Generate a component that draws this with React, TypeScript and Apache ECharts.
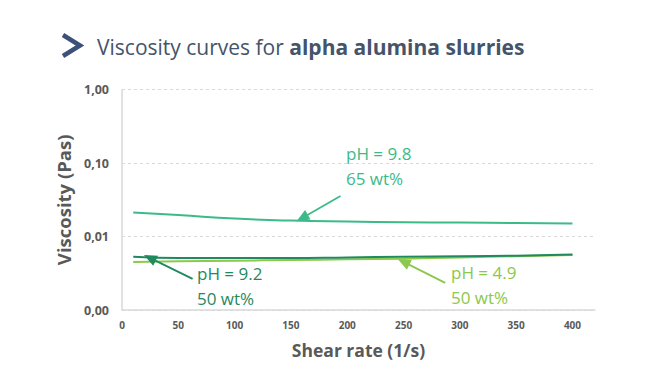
import React, { useEffect, useRef } from "react";
import * as echarts from "echarts";

const shearRate = [10, 50, 100, 150, 200, 250, 300, 350, 400];
const ph98 = [0.0212, 0.0196, 0.0176, 0.0165, 0.016, 0.0157, 0.0155, 0.0153, 0.0151];
const ph92 = [0.0053, 0.0051, 0.0051, 0.0051, 0.0052, 0.0053, 0.0054, 0.0055, 0.0057];
const ph49 = [0.0045, 0.0046, 0.0047, 0.0048, 0.0049, 0.005, 0.0052, 0.0054, 0.0056];
const yTicks = [0.001, 0.01, 0.1, 1];
const xTicks = [0, 50, 100, 150, 200, 250, 300, 350, 400];

const C98 = "#3dba8a";
const C92 = "#1f8a5f";
const C49 = "#8cc84b";
const FONT = "Open Sans";

const arrow = (from: number[], to: number[], color: string) => ({
  silent: true,
  symbol: ["none", "triangle"],
  symbolSize: [11, 13],
  label: { show: false },
  lineStyle: { color, width: 1.8, type: "solid" },
  data: [[{ coord: from }, { coord: to }]],
});

export default function App() {
  const ref = useRef<HTMLDivElement>(null);
  useEffect(() => {
    if (!ref.current) return;
    const chart = echarts.init(ref.current, null, { renderer: "svg" });
    const mk = (name: string, data: number[], color: string, extra: any = {}) => ({
      name,
      type: "line",
      smooth: true,
      showSymbol: false,
      data: shearRate.map((x, i) => [x, data[i]]),
      lineStyle: { color, width: 2 },
      itemStyle: { color },
      ...extra,
    });
    const note = (x: number, y: number, text: string, color: string) => ({
      type: "text",
      x,
      y,
      style: { text, fontSize: 17, lineHeight: 25, fontFamily: FONT, fill: color, verticalAlign: "top" },
    });
    chart.setOption({
      animation: false,
      textStyle: { fontFamily: FONT },
      grid: { left: 122, right: 58, top: 89.7, bottom: 65 },
      xAxis: {
        type: "value",
        min: 0,
        max: 420,
        interval: 50,
        name: "Shear rate (1/s)",
        nameLocation: "middle",
        nameGap: 31,
        nameTextStyle: { fontSize: 17.5, fontWeight: "bold", color: "#595959", fontFamily: FONT },
        axisLine: { show: true, lineStyle: { color: "#d9d9d9", width: 1.5 } },
        axisTick: { show: false },
        splitLine: { show: false },
        axisLabel: {
          color: "#595959",
          fontSize: 10,
          fontWeight: "bold",
          margin: 10,
          formatter: (v: number) => (xTicks.includes(v) ? String(v) : ""),
        },
      },
      yAxis: {
        type: "log",
        logBase: 10,
        min: yTicks[0],
        max: yTicks[yTicks.length - 1],
        name: "Viscosity (Pas)",
        nameLocation: "middle",
        nameGap: 46,
        nameTextStyle: { fontSize: 18.5, fontWeight: "bold", color: "#595959", fontFamily: FONT },
        axisLine: { show: true, lineStyle: { color: "#d9d9d9", width: 1.5 } },
        axisTick: { show: false },
        splitLine: { show: true, lineStyle: { color: "#d9d9d9", type: [3, 3], width: 1 } },
        axisLabel: {
          color: "#595959",
          fontSize: 12.5,
          fontWeight: "bold",
          margin: 13,
          formatter: (v: number) => v.toFixed(2).replace(".", ","),
        },
      },
      series: [
        mk("pH 9.8", ph98, C98, { markLine: arrow([194, 0.0356], [160, 0.0179], C98) }),
        mk("pH 4.9", ph49, C49, { markLine: arrow([287, 0.00234], [250, 0.00452], C49) }),
        mk("pH 9.2", ph92, C92, { markLine: arrow([62.7, 0.00265], [24.7, 0.00512], C92) }),
      ],
      graphic: [
        {
          type: "polyline",
          shape: { points: [[63, 35], [80, 45.5], [63, 56]] },
          style: { stroke: "#3d5079", lineWidth: 4.5, fill: "none" },
        },
        {
          type: "text",
          x: 97,
          y: 47,
          style: {
            text: "{n|Viscosity curves for }{b|alpha alumina slurries}",
            verticalAlign: "middle",
            rich: {
              n: { fontSize: 21, fontFamily: FONT, fill: "#44546a", fontWeight: "normal" },
              b: { fontSize: 21, fontFamily: FONT, fill: "#44546a", fontWeight: "bold" },
            },
          },
        },
        note(346, 141, "pH = 9.8\n65 wt%", C98),
        note(197, 261, "pH = 9.2\n50 wt%", C92),
        note(451, 260, "pH = 4.9\n50 wt%", C49),
      ],
    });
    return () => chart.dispose();
  }, []);
  return <div ref={ref} style={{ width: 653, height: 375, position: "absolute", left: 0, top: 0, background: "#fff" }} />;
}
